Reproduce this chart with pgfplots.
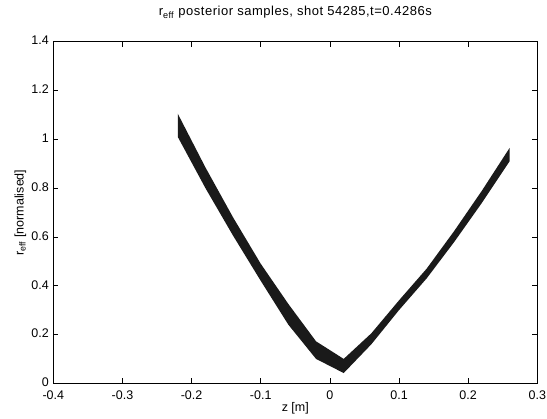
\documentclass[border=0pt]{standalone}
\usepackage{pgfplots}
\pgfplotsset{compat=1.18}
\usepackage{fontspec}
\setmainfont{Liberation Sans}
\begin{document}
\begin{tikzpicture}
\begin{axis}[
  scale only axis,
  width=484pt, height=341.6pt,
  xmin=-0.4, xmax=0.3, ymin=0, ymax=1.4,
  xtick={-0.4,-0.3,-0.2,-0.1,0,0.1,0.2,0.3},
  ytick={0,0.2,0.4,0.6,0.8,1,1.2,1.4},
  tick align=inside,
  major tick length=5pt,
  axis line style={line width=0.8pt},
  tick style={line width=0.6pt, black},
  /pgf/number format/assume math mode=true,
  ticklabel style={font=\fontsize{12.5}{14}\selectfont},
  xticklabel style={yshift=-4pt},
  yticklabel style={xshift=-1pt, yshift=1pt},
  label style={font=\fontsize{12.5}{14}\selectfont},
  title style={font=\fontsize{13}{15}\selectfont\addfontfeatures{LetterSpace=4}, at={(axis description cs:0.5,1.0688)}, anchor=center},
  xlabel style={at={(axis description cs:0.5,-0.0732)}, anchor=center},
  ylabel style={at={(axis description cs:-0.0682,0.5)}, anchor=center},
  title={r\textsubscript{eff} posterior samples, shot 54285,t=0.4286s},
  xlabel={z [m]},
  ylabel={r\textsubscript{eff} [normalised]},
]
\addplot[draw=none, fill={rgb,255:red,26;green,26;blue,26}] coordinates {
  (-0.22,1.105) (-0.18,0.885) (-0.14,0.680) (-0.10,0.490) (-0.06,0.325)
  (-0.02,0.172) (0.02,0.100) (0.06,0.205) (0.10,0.340) (0.14,0.470)
  (0.18,0.625) (0.22,0.790) (0.26,0.965)
  (0.26,0.910) (0.22,0.740) (0.18,0.580) (0.14,0.430) (0.10,0.300)
  (0.06,0.160) (0.02,0.042) (-0.02,0.100) (-0.06,0.240) (-0.10,0.420)
  (-0.14,0.605) (-0.18,0.800) (-0.22,1.010)
} -- cycle;
\end{axis}
\pgfresetboundingbox
\path ([shift={(-53.3pt,-34.7pt)}]current axis.south west) rectangle ([shift={(9.7pt,41.7pt)}]current axis.north east);
\end{tikzpicture}
\end{document}
